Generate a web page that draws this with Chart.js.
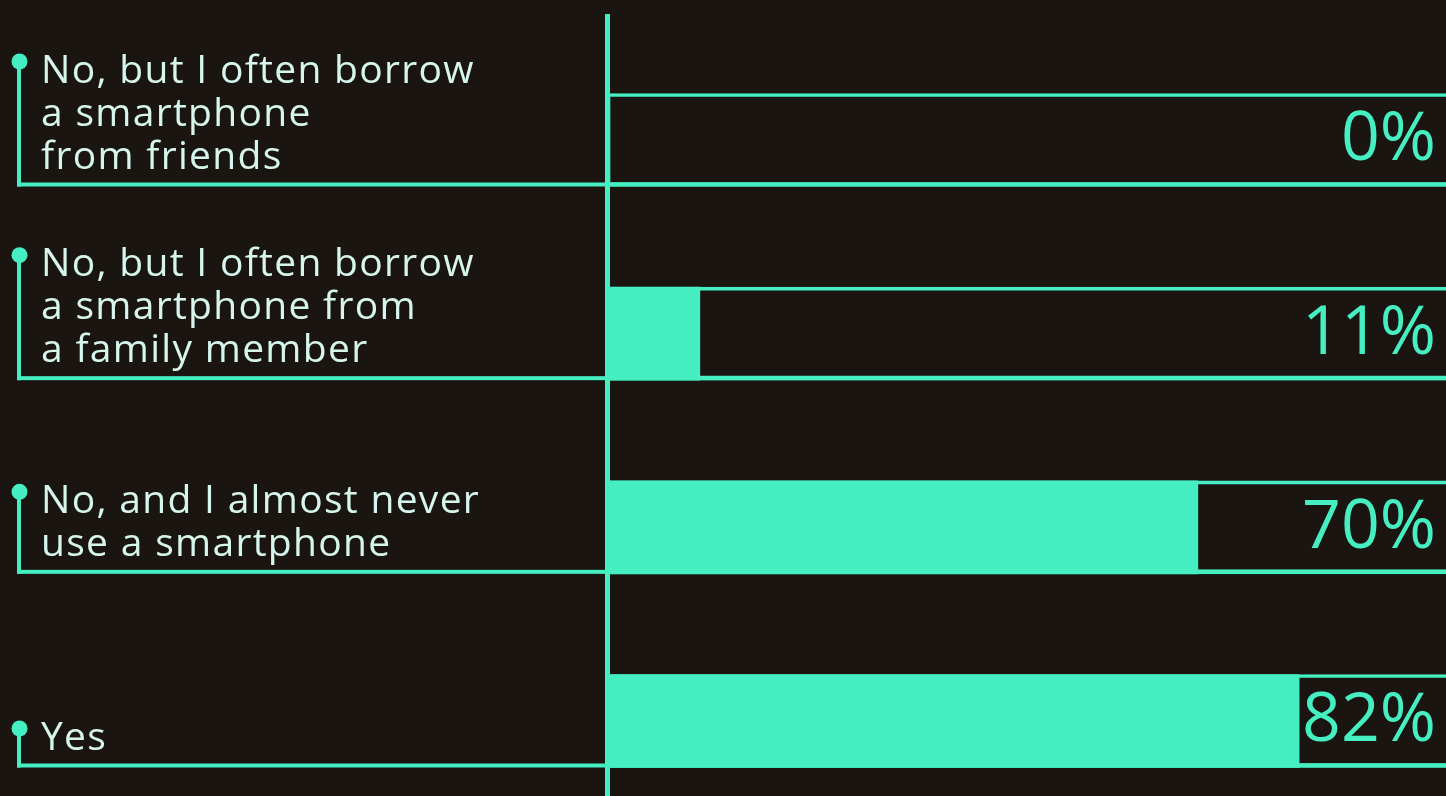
<!DOCTYPE html>
<html>
<head>
<meta charset="utf-8">
<script src="https://cdn.jsdelivr.net/npm/chart.js@4"></script>
<style>
  html, body { margin: 0; padding: 0; background: #1a1510; }
  canvas { display: block; }
</style>
</head>
<body>
<canvas id="myChart" width="1446" height="796"></canvas>
<script>
// respuestas (cada una partida en lineas como en la imagen)
const categorias = [
  ["No, but I often borrow", "a smartphone", "from friends"],
  ["No, but I often borrow", "a smartphone from", "a family member"],
  ["No, and I almost never", "use a smartphone"],
  ["Yes"]
];
const valores = [0, 11, 70, 82];
const etiquetasValor = ["0%", "11%", "70%", "82%"];
const total = 100;

const verde = "#45efc2";
const colorTexto = "#d6f5ec";
const grosorBarra = 93;

const dibujarExtras = {
  id: "dibujarExtras",
  afterDatasetsDraw(chart) {
    const ctx = chart.ctx;
    const area = chart.chartArea;
    const escalaY = chart.scales.y;
    ctx.save();

    // eje vertical
    ctx.fillStyle = verde;
    ctx.fillRect(area.left - 2, 14, 5, chart.height - 14);

    categorias.forEach((lineas, i) => {
      const centro = escalaY.getPixelForValue(i);
      const abajo = centro + grosorBarra / 2;

      // linea inferior que va hasta la etiqueta
      ctx.fillStyle = verde;
      ctx.fillRect(17, abajo - 4, chart.width - 17, 4);

      // texto de la etiqueta
      const ultimaBase = abajo - 18;
      const primeraBase = ultimaBase - (lineas.length - 1) * 43;
      ctx.font = "39px 'Open Sans'";
      ctx.letterSpacing = "1.3px";
      ctx.fillStyle = colorTexto;
      ctx.textAlign = "left";
      ctx.textBaseline = "alphabetic";
      lineas.forEach((l, j) => {
        ctx.fillText(l, 41, primeraBase + j * 43);
      });
      ctx.letterSpacing = "0px";

      // punto y conector
      const yPunto = primeraBase - 21;
      ctx.fillStyle = verde;
      ctx.fillRect(17, yPunto, 4, abajo - yPunto);
      ctx.beginPath();
      ctx.arc(19.5, yPunto, 8, 0, Math.PI * 2);
      ctx.fill();

      // valor a la derecha
      ctx.font = "68px 'Open Sans'";
      ctx.textAlign = "right";
      ctx.textBaseline = "middle";
      ctx.fillText(etiquetasValor[i], 1436, centro + 1);
    });

    ctx.restore();
  }
};

const myChart = document.getElementById("myChart");

new Chart(myChart, {
  type: "bar",
  data: {
    labels: categorias,
    datasets: [
      {
        label: "valor",
        data: valores,
        backgroundColor: verde,
        borderWidth: 0,
        barThickness: grosorBarra,
        grouped: false,
        clip: false
      },
      {
        label: "total",
        data: categorias.map(() => total),
        backgroundColor: "rgba(0,0,0,0)",
        borderColor: verde,
        borderWidth: { top: 3, bottom: 4, left: 3, right: 0 },
        borderSkipped: false,
        barThickness: grosorBarra,
        grouped: false,
        clip: false
      }
    ]
  },
  options: {
    indexAxis: "y",
    responsive: false,
    animation: false,
    devicePixelRatio: 1,
    layout: { padding: { left: 607, right: 0, top: 140, bottom: 75 } },
    scales: {
      x: { display: false, min: 0, max: 99.4 },
      y: { display: false, offset: false }
    },
    plugins: {
      legend: { display: false },
      tooltip: { enabled: false }
    }
  },
  plugins: [dibujarExtras]
});
</script>
</body>
</html>
